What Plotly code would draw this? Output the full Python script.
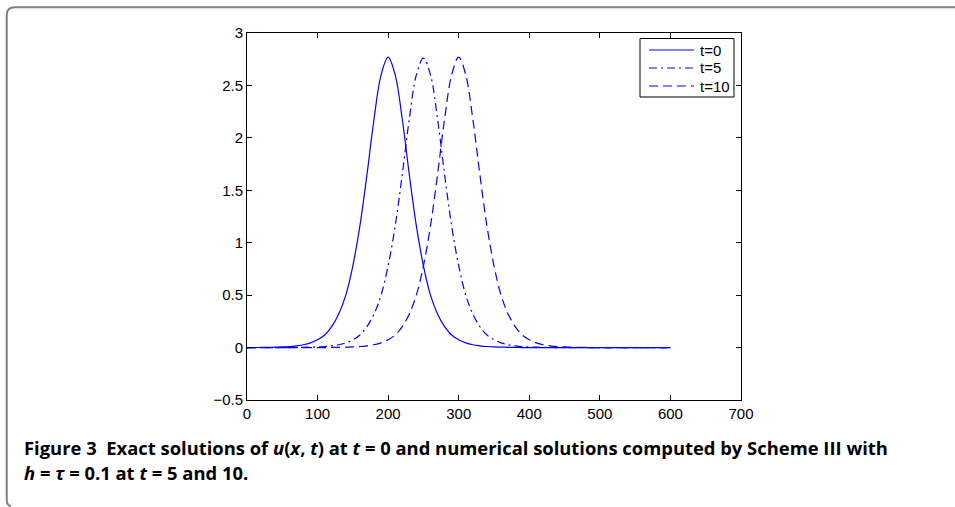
import plotly.graph_objects as go

# ---- data ----
x_vals = list(range(0, 610, 10))

u_t0 = [0, 0, 0.001, 0.002, 0.004, 0.006, 0.010, 0.017, 0.027, 0.045,
        0.074, 0.12, 0.20, 0.32, 0.50, 0.78, 1.16, 1.65, 2.18, 2.60,
        2.77, 2.60, 2.18, 1.65, 1.16, 0.78, 0.50, 0.32, 0.20, 0.12,
        0.074, 0.045, 0.027, 0.017, 0.010, 0.006, 0.004, 0.002, 0.001,
        0, 0, 0, 0, 0, 0, 0, 0, 0, 0, 0, 0, 0, 0, 0, 0, 0, 0, 0, 0, 0, 0]

u_t5 = [0, 0, 0, 0, 0, 0, 0, 0.001, 0.002, 0.004,
        0.006, 0.010, 0.017, 0.027, 0.045, 0.074, 0.12, 0.20, 0.32, 0.50,
        0.78, 1.16, 1.65, 2.18, 2.60, 2.76, 2.60, 2.18, 1.65, 1.16,
        0.78, 0.50, 0.32, 0.20, 0.12, 0.074, 0.045, 0.027, 0.017, 0.010,
        0.006, 0.004, 0.002, 0.001,
        0, 0, 0, 0, 0, 0, 0, 0, 0, 0, 0, 0, 0, 0, 0, 0, 0]

u_t10 = [0, 0, 0, 0, 0, 0, 0, 0, 0, 0, 0, 0,
         0.001, 0.002, 0.004, 0.006, 0.010, 0.017, 0.027, 0.045,
         0.074, 0.12, 0.20, 0.32, 0.50, 0.78, 1.16, 1.65, 2.18, 2.60,
         2.77, 2.60, 2.18, 1.65, 1.16, 0.78, 0.50, 0.32, 0.20, 0.12,
         0.074, 0.045, 0.027, 0.017, 0.010, 0.006, 0.004, 0.002, 0.001,
         0, 0, 0, 0, 0, 0, 0, 0, 0, 0, 0, 0]

series_names = ["t=0", "t=5", "t=10"]
x_ticks = [0, 100, 200, 300, 400, 500, 600, 700]
y_ticks = [-0.5, 0, 0.5, 1, 1.5, 2, 2.5, 3]

caption_1 = ("<b>Figure 3  Exact solutions of <i>u</i>(<i>x</i>, <i>t</i>) at <i>t</i> = 0 "
             "and numerical solutions computed by Scheme III with</b>")
caption_2 = "<b><i>h</i> = <i>τ</i> = 0.1 at <i>t</i> = 5 and 10.</b>"

# ---- layout geometry ----
W, H = 955, 507
L, R, T, B = 247, 214, 33, 107
PW, PH = W - L - R, H - T - B


def px(x):
    return (x - L) / PW


def py(y):
    return (H - B - y) / PH


FONT = "Liberation Sans, Arial, Helvetica, sans-serif"
BLUE = "#0000ff"
styles = ["solid", "8px,4px,2px,4px", "9px,5px"]

fig = go.Figure()
for name, ys, dash in zip(series_names, [u_t0, u_t5, u_t10], styles):
    fig.add_trace(go.Scatter(
        x=x_vals, y=ys, mode="lines", name=name, showlegend=False,
        line=dict(color=BLUE, width=1.2, dash=dash, shape="spline", smoothing=1.0),
    ))

axis_common = dict(
    showline=True, linecolor="black", linewidth=1, mirror="ticks",
    ticks="inside", ticklen=5, tickcolor="black", tickwidth=1,
    showgrid=False, zeroline=False,
    tickfont=dict(family=FONT, size=15, color="black"),
)

fig.update_layout(
    width=W, height=H,
    margin=dict(l=L, r=R, t=T, b=B, pad=0),
    paper_bgcolor="white", plot_bgcolor="white",
    xaxis=dict(range=[0, 700], tickvals=x_ticks, **axis_common),
    yaxis=dict(range=[-0.5, 3], tickvals=y_ticks, **axis_common),
    showlegend=False,
)

# manual legend (MATLAB style box)
fig.add_shape(type="rect", xref="paper", yref="paper",
              x0=px(640), x1=px(734), y0=py(97), y1=py(38.5),
              line=dict(color="black", width=1), fillcolor="white", layer="above")
row_y = [50, 68, 86]
for name, dash, ry in zip(series_names, styles, row_y):
    fig.add_shape(type="line", xref="paper", yref="paper",
                  x0=px(649), x1=px(694), y0=py(ry), y1=py(ry),
                  line=dict(color=BLUE, width=1.2, dash=dash), layer="above")
    fig.add_annotation(text=name, xref="paper", yref="paper",
                       x=px(698), y=py(ry), xanchor="left", yanchor="middle",
                       showarrow=False,
                       font=dict(family=FONT, size=15, color="black"))

# rounded frame (top and left edges)
frame = (f"M {px(11)},{py(506)} Q {px(6.7)},{py(506)} {px(6.7)},{py(499)} "
         f"L {px(6.7)},{py(15)} Q {px(6.7)},{py(7.3)} {px(15)},{py(7.3)} "
         f"L {px(960)},{py(7.3)}")
fig.add_shape(type="path", path=frame, xref="paper", yref="paper",
              line=dict(color="#808080", width=2))

cap_font = dict(family="Open Sans, Noto Sans, sans-serif", size=18.4, color="black")
fig.add_annotation(text=caption_1, xref="paper", yref="paper",
                   x=px(22), y=py(447), xanchor="left", yanchor="middle",
                   showarrow=False, font=cap_font)
fig.add_annotation(text=caption_2, xref="paper", yref="paper",
                   x=px(22), y=py(472), xanchor="left", yanchor="middle",
                   showarrow=False, font=cap_font)

fig.write_html("out.html", config={"displayModeBar": False},
               post_script="document.body.style.margin='0';")
